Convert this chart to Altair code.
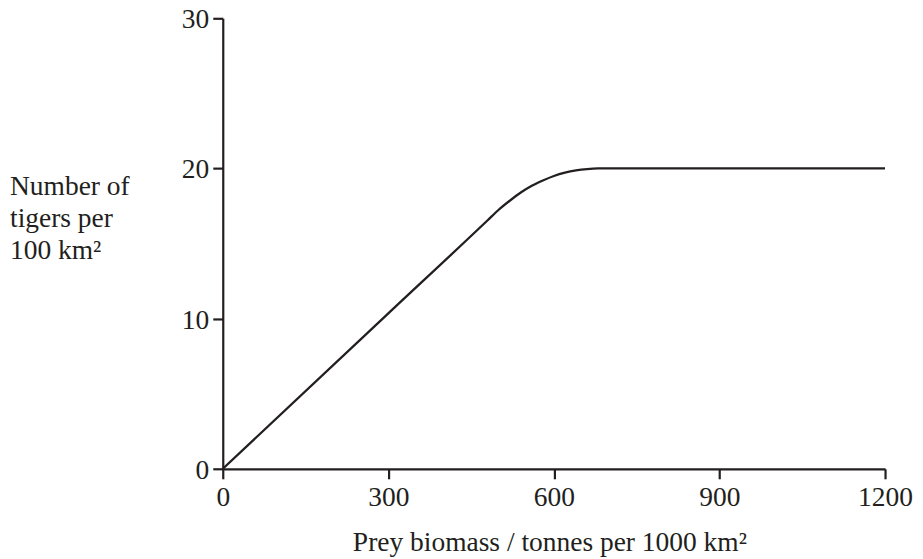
import altair as alt
import pandas as pd

# Prey biomass (tonnes per 1000 km^2) and tigers per 100 km^2
biomass = [0, 300, 480, 500, 520, 540, 560, 580, 600, 620, 640, 660, 680, 1200]
tigers = [0, 10.35, 16.55, 17.25, 17.85, 18.4, 18.85, 19.2, 19.5, 19.72, 19.87, 19.96, 20, 20]

x_ticks = [0, 300, 600, 900, 1200]
y_ticks = [0, 10, 20, 30]

df = pd.DataFrame({"biomass": biomass, "tigers": tigers})

INK = "#231f20"
FONT = "Liberation Serif"
FS = 27.5

chart = (
    alt.Chart(df)
    .mark_line(color=INK, strokeWidth=2.3, interpolate="monotone")
    .encode(
        x=alt.X(
            "biomass:Q",
            scale=alt.Scale(domain=[0, 1200], nice=False, zero=True),
            axis=alt.Axis(
                values=x_ticks,
                format="d",
                title="Prey biomass / tonnes per 1000 km²",
                titleFont=FONT,
                titleFontSize=FS,
                titleFontWeight="normal",
                titleColor=INK,
                titleBaseline="alphabetic",
                titleY=82,
                titleX=327,
                labelFont=FONT,
                labelFontSize=FS,
                labelColor=INK,
                labelPadding=5,
                labelFlush=False,
                labelOverlap=False,
                grid=False,
                domainColor=INK,
                domainWidth=2.2,
                tickColor=INK,
                tickWidth=2.2,
                tickSize=10,
            ),
        ),
        y=alt.Y(
            "tigers:Q",
            scale=alt.Scale(domain=[0, 30], nice=False),
            axis=alt.Axis(
                values=y_ticks,
                format="d",
                title=["Number of", "tigers per", "100 km²"],
                titleFont=FONT,
                titleFontSize=FS,
                titleFontWeight="normal",
                titleColor=INK,
                titleAngle=0,
                titleAlign="left",
                titleBaseline="alphabetic",
                titleX=-213.5,
                titleY=176.5,
                titleLineHeight=32,
                labelFont=FONT,
                labelFontSize=FS,
                labelColor=INK,
                labelPadding=4,
                labelOffset=1.5,
                labelFlush=False,
                labelOverlap=False,
                grid=False,
                domainColor=INK,
                domainWidth=2.2,
                tickColor=INK,
                tickWidth=2.2,
                tickSize=10,
            ),
        ),
    )
    .properties(
        width=663,
        height=451,
        padding={"left": 215, "top": 10, "right": 30, "bottom": 90},
        autosize=alt.AutoSizeParams(type="none"),
        background="white",
    )
    .configure_view(stroke=None, strokeWidth=0)
)

chart.save("out.html", embed_options={"renderer": "svg", "actions": False})
